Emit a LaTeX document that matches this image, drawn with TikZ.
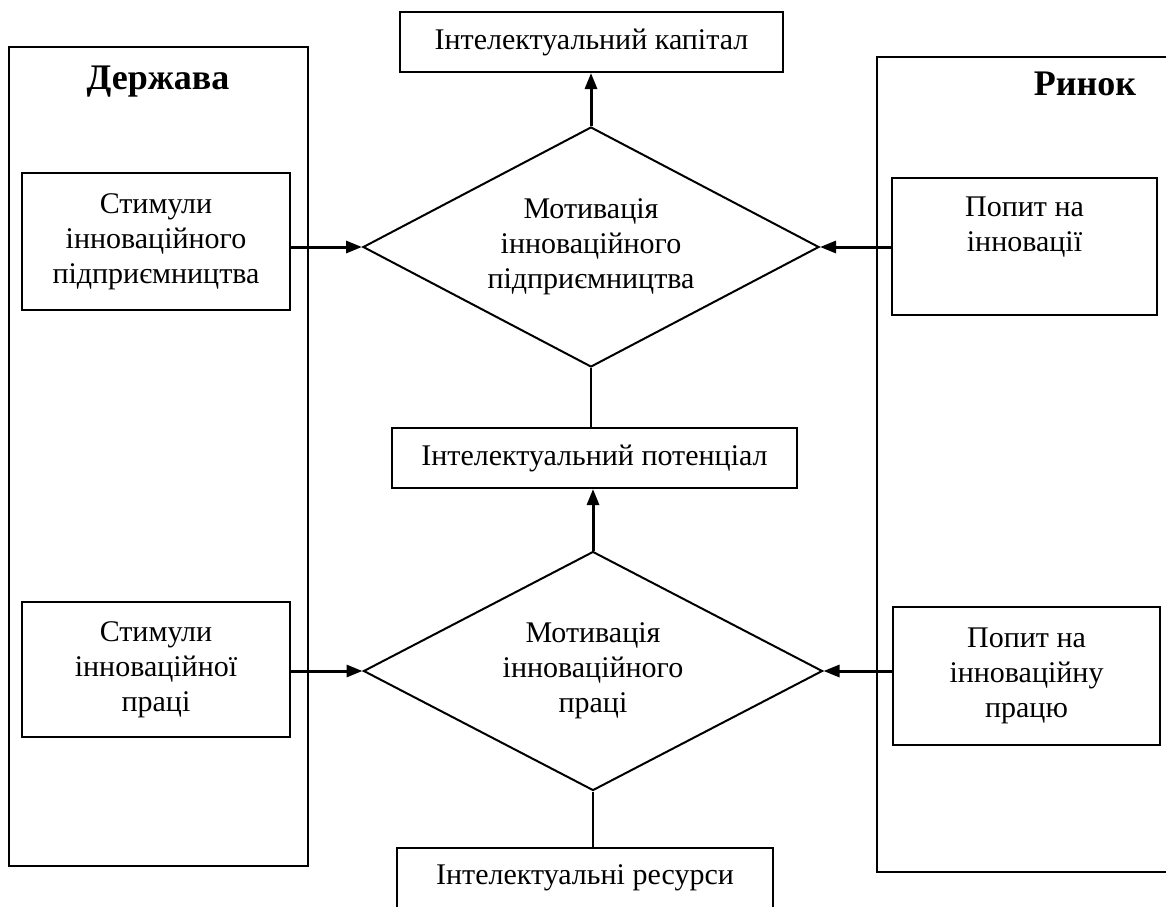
\documentclass[tikz,border=0pt]{standalone}
\usepackage{fontspec}
\setmainfont{Liberation Serif}
\usetikzlibrary{arrows.meta,shapes.geometric}
\tikzset{
	box/.style={draw, line width=1pt, inner sep=0pt, align=center, font=\fontsize{15}{17.5}\selectfont},
	bigbox/.style={draw, line width=1pt, inner sep=0pt},
	motive/.style={draw, diamond, aspect=1.9, line width=1pt, inner sep=0pt, align=center, font=\fontsize{15}{17.5}\selectfont},
	title/.style={font=\fontsize{18}{21}\selectfont\bfseries},
	arr/.style={line width=1.5pt, -{Triangle[length=8pt,width=6pt]}},
	link/.style={line width=1pt}
}

\begin{document}
\begin{tikzpicture}[x=0.5pt, y=-0.5pt]
			%%%%% START %%%%%
			\useasboundingbox (0, 0) rectangle (1166, 906);
			
			\node[bigbox, minimum width=149.5pt, minimum height=409.5pt] (derzhava) at (158.5, 456.5) {};
			\node[title] (derzhavaname) at (158, 82) {Держава};
			\node[bigbox, minimum width=151.5pt, minimum height=407.5pt] (rynok) at (1028.5, 464.5) {};
			\node[title] (rynokname) at (1085, 84) {Ринок};
			
			\node[box, minimum width=134pt, minimum height=68.5pt] (stym1) at (156, 241.5) {Стимули\\інноваційного\\підприємництва};
			\node[box, minimum width=134pt, minimum height=67.5pt] (stym2) at (156, 669.5) {Стимули\\інноваційної\\праці};
			\node[box, minimum width=132.5pt, minimum height=68.5pt] (popyt1) at (1024.5, 246.5) {Попит на\\інновації\\\strut};
			\node[box, minimum width=133.5pt, minimum height=69pt] (popyt2) at (1026.5, 676) {Попит на\\інноваційну\\працю};
			
			\node[box, minimum width=191.5pt, minimum height=30pt] (kapital) at (591.5, 42) {Інтелектуальний капітал};
			\node[motive, minimum width=228pt, minimum height=120pt] (motyv1) at (591, 247) {Мотивація\\інноваційного\\підприємництва};
			\node[box, minimum width=202.5pt, minimum height=30pt] (potencial) at (594.5, 458) {Інтелектуальний потенціал};
			\node[motive, minimum width=229.5pt, minimum height=119.5pt] (motyv2) at (593, 671) {Мотивація\\інноваційного\\праці};
			\node[box, minimum width=188pt, minimum height=30pt] (resursy) at (585, 878) {Інтелектуальні ресурси};
			
			\draw[arr] (motyv1.north) -- (motyv1.north |- kapital.south);
			\draw[link] (motyv1.south) -- (motyv1.south |- potencial.north);
			\draw[arr] (motyv2.north) -- (motyv2.north |- potencial.south);
			\draw[link] (motyv2.south) -- (motyv2.south |- resursy.north);
			
			\draw[arr] (stym1.east |- motyv1.west) -- (motyv1.west);
			\draw[arr] (popyt1.west |- motyv1.east) -- (motyv1.east);
			\draw[arr] (stym2.east |- motyv2.west) -- (motyv2.west);
			\draw[arr] (popyt2.west |- motyv2.east) -- (motyv2.east);
			
			%%%%% END %%%%%
\end{tikzpicture}
\end{document}
